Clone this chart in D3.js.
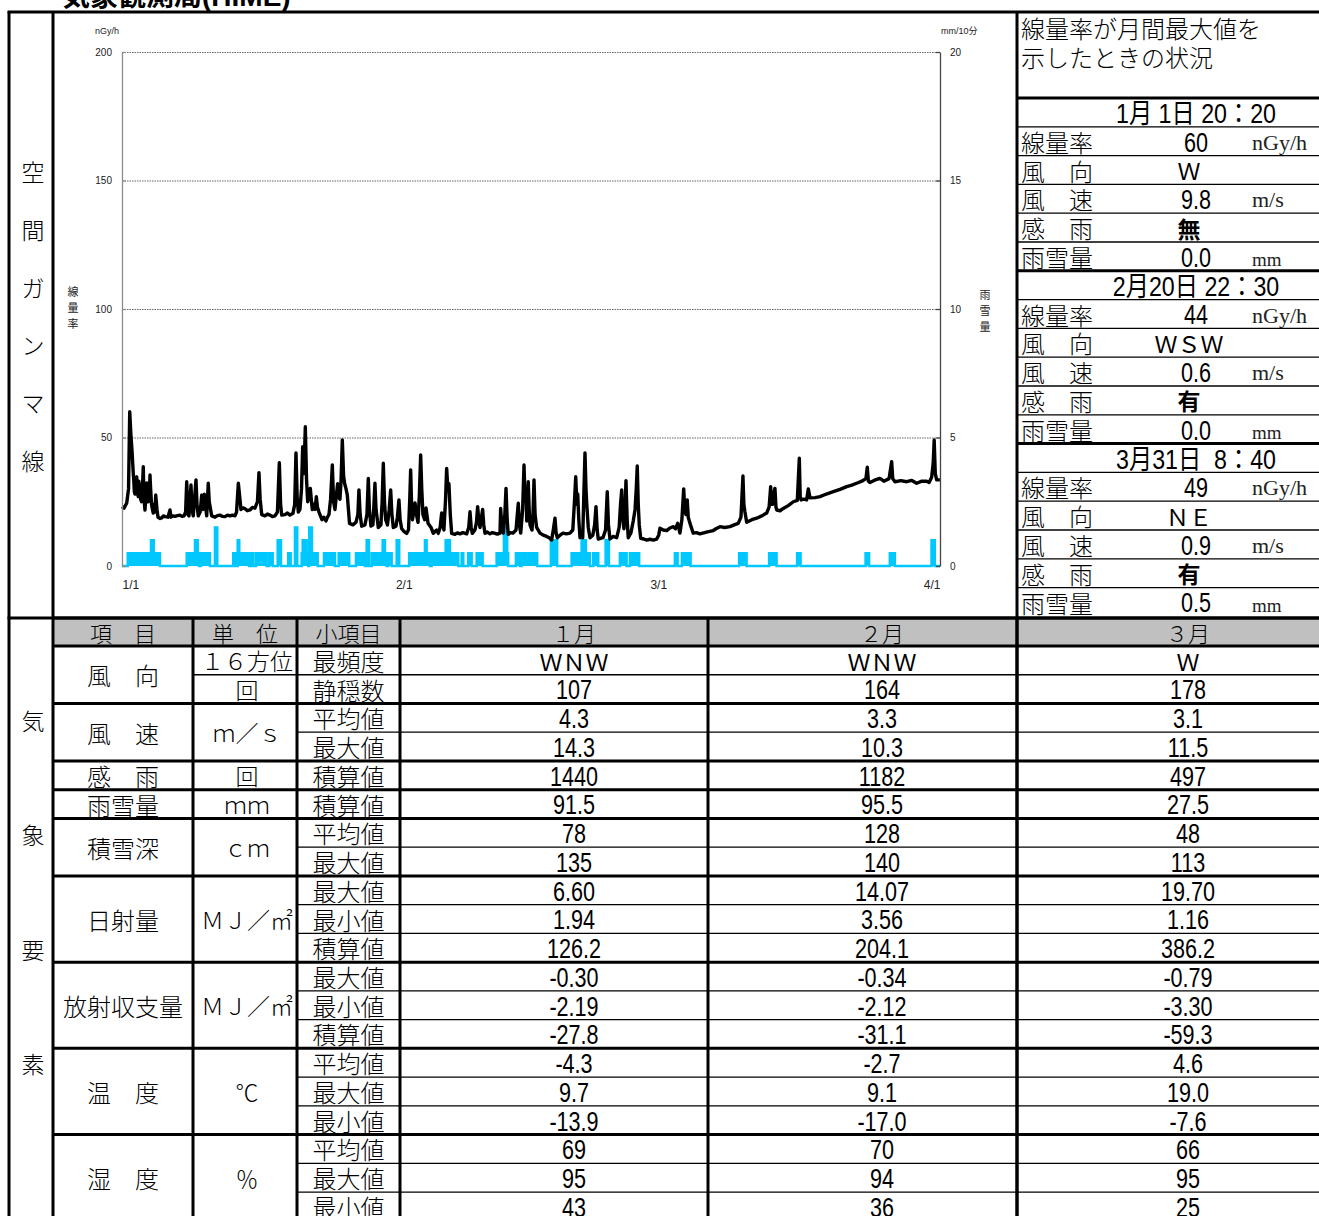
<!DOCTYPE html>
<html><head><meta charset="utf-8">
<script src="https://cdn.jsdelivr.net/npm/d3@7"></script>
<style>
body{margin:0;background:#fff;}
svg{display:block;}
text{white-space:pre;}
</style></head><body>
<svg id="sheet" width="1319" height="1216"></svg>
<script>
// Dose rate, 10-minute record: [days since 1 Jan 00:00, nGy/h]
const doseRate = [
 [0,23.1],[0.22,22.5],[0.52,24.5],[0.72,30],[0.85,60],[0.99,50.3],[1.10,45],[1.24,36],[1.30,33],[1.36,29],
 [1.43,28],[1.50,31],[1.62,34.7],[1.70,29],[1.79,27],[1.85,33],[1.98,30],[2.05,26],[2.15,25],[2.25,30],
 [2.34,38.6],[2.42,26],[2.53,21.8],[2.62,27],[2.72,32.3],[2.80,29],[2.89,25],[3.00,27],[3.08,35.4],[3.15,30],
 [3.25,24],[3.35,22],[3.44,20.6],[3.55,24],[3.62,21],[3.71,27.6],[3.85,22],[3.96,19],[4.20,18.5],[4.37,18.7],
 [4.55,19.5],[4.73,19.2],[5.05,19],[5.28,21.8],[5.39,19],[5.60,19.5],[5.83,19.3],[6.10,19.6],[6.38,19.8],[6.60,19.3],
 [6.82,19.5],[7.00,21],[7.12,32.8],[7.26,20],[7.37,19.5],[7.59,31.5],[7.70,22],[7.84,19.5],[8.14,33.5],[8.25,24],
 [8.39,19.5],[8.60,21],[8.77,27.6],[8.91,22],[9.05,27.9],[9.20,23],[9.32,19.5],[9.49,32.2],[9.60,25],[9.87,19.5],
 [10.23,19],[10.50,19.6],[10.78,19.8],[11.05,19.3],[11.33,19.2],[11.60,19.8],[11.88,19.5],[12.15,19.8],[12.43,19.5],[12.60,21],
 [12.80,32.2],[13.09,22],[13.30,22.6],[13.53,22.3],[13.80,21.5],[14.08,21.8],[14.35,22.8],[14.63,22.5],[14.90,25],[15.07,36.3],
 [15.20,26],[15.37,20],[15.73,19.5],[16.00,20.2],[16.28,19.8],[16.55,19.2],[16.83,19.5],[17.10,21],[17.31,40.2],[17.45,24],
 [17.57,19.8],[17.93,20],[18.20,20.6],[18.48,19.8],[18.81,20.5],[19.00,24],[19.14,44],[19.28,26],[19.40,21],[19.58,22],
 [19.75,30],[19.88,46.4],[20.02,36],[20.17,54.2],[20.30,34],[20.43,25],[20.58,28],[20.72,30.2],[20.85,25],[20.94,22],
 [21.12,24],[21.25,22],[21.38,27],[21.50,23],[21.67,21],[22.00,18],[22.20,19],[22.44,17.5],[22.60,19],[22.77,20],
 [22.95,26],[23.14,39.3],[23.28,25],[23.43,22],[23.60,28],[23.73,32],[23.85,27],[23.98,26],[24.10,33],[24.24,49],
 [24.38,35],[24.50,32],[24.65,30],[24.79,27.6],[25.03,16.6],[25.41,16],[25.74,17],[25.95,20],[26.07,29.6],[26.20,20],
 [26.37,15.5],[26.73,16],[26.95,20],[27.10,34.1],[27.22,22],[27.39,15.5],[27.61,16],[27.72,24],[27.83,32.2],[27.95,22],
 [28.20,15],[28.49,16],[28.62,25],[28.75,40],[28.88,25],[29.01,18],[29.21,16],[29.40,22],[29.56,29.6],[29.70,20],
 [29.85,15],[30.14,15.5],[30.30,19],[30.47,25.7],[30.60,18],[30.77,14.5],[31.02,13.5],[31.32,12.7],[31.52,14],[31.65,25],
 [31.76,37.4],[31.86,24],[31.96,18],[32.10,21],[32.24,24.5],[32.40,20],[32.57,17],[32.72,28],[32.86,43.2],[32.98,30],
 [33.11,20],[33.30,18],[33.45,22.6],[33.67,16.6],[34.00,15],[34.25,12.7],[34.45,13.5],[34.62,14],[34.80,12.7],[35.00,15],
 [35.17,20.6],[35.30,16],[35.42,14],[35.60,26],[35.72,38],[35.85,30],[35.97,32],[36.12,20],[36.27,12.7],[36.63,12.3],
 [36.90,12.9],[37.18,12.5],[37.51,13],[37.92,12.5],[38.15,15],[38.29,21.1],[38.42,15],[38.54,12.7],[38.83,14],[39.00,17],
 [39.13,23.1],[39.25,18],[39.39,15],[39.55,19],[39.68,22],[39.80,16],[39.94,12.7],[40.20,13.2],[40.49,12.5],[40.75,13],
 [41.04,12.7],[41.30,12.4],[41.59,12.8],[41.66,22.4],[41.80,15],[41.95,12.8],[42.12,20],[42.25,30.2],[42.38,18],[42.50,12.3],
 [42.75,13],[43.02,12.8],[43.35,14],[43.60,24.4],[43.72,16],[43.87,12.8],[44.08,22],[44.23,39.3],[44.36,25],[44.45,30],
 [44.53,17.5],[44.62,24],[44.70,32.8],[44.80,22],[44.89,16],[45.11,14],[45.22,20],[45.33,33.5],[45.45,20],[45.62,15],
 [45.99,12.8],[46.35,12],[46.72,11.5],[47.00,11],[47.27,10.1],[47.45,14],[47.64,18.6],[47.76,13],[47.89,11],[48.20,12],
 [48.52,12.8],[48.90,12.5],[49.29,12.8],[49.60,14],[49.78,25],[49.92,34.7],[50.05,24],[50.14,28],[50.26,18],[50.39,11],
 [50.55,12],[50.69,11],[50.80,26],[50.94,44],[51.05,30],[51.13,24.4],[51.30,15],[51.49,11],[51.80,12],[52.00,16],
 [52.15,23.1],[52.28,14],[52.40,10.5],[52.92,11],[53.20,14],[53.39,28.9],[53.52,16],[53.69,10.5],[54.05,11.5],[54.43,11],
 [54.70,15],[54.85,24],[54.98,29.6],[55.10,18],[55.23,14.5],[55.35,22],[55.45,33.2],[55.58,18],[55.70,11],[56.00,13],
 [56.25,17.5],[56.45,22],[56.58,30],[56.69,38.9],[56.80,24],[56.91,16],[57.07,10.8],[57.40,10.5],[57.73,10.1],[58.10,10.4],
 [58.46,10.1],[58.83,10.5],[59.05,12],[59.19,14.7],[59.55,14],[59.93,13.8],[60.30,14.8],[60.66,15.3],[60.90,14.5],[61.14,16.6],
 [61.39,12.8],[61.60,18],[61.80,30],[61.92,22],[62.05,20],[62.19,25.7],[62.30,19],[62.49,16.6],[62.85,12.8],[63.20,13],
 [63.59,12.5],[64.30,13.2],[65.05,13.8],[65.40,14.6],[65.79,15.3],[66.30,15],[66.89,15.3],[67.35,16],[67.80,16.6],[68.10,19],
 [68.32,35],[68.42,24],[68.54,21],[68.73,17],[69.30,18],[69.83,18.6],[70.40,19.5],[70.93,20.6],[71.20,23],[71.37,30.9],
 [71.48,24],[71.59,24],[71.72,28],[71.84,30.2],[71.95,23],[72.03,21.8],[72.40,21.5],[72.76,22.4],[73.30,23.5],[73.86,25],
 [74.30,25.5],[74.52,41.9],[74.62,27],[74.71,25.7],[75.00,26],[75.33,25.7],[75.51,30],[75.70,26.5],[76.25,26.6],[76.80,27],
 [77.50,28],[78.26,28.9],[79.00,29.8],[79.73,30.9],[80.30,31.5],[80.83,32.2],[81.40,33],[81.85,34],[82.00,38.4],[82.12,33],
 [82.29,32.5],[82.80,33.4],[83.39,34.1],[83.83,33],[84.40,34],[84.68,40.6],[84.80,34],[85.04,32.8],[85.70,33.2],[86.33,32.8],
 [86.90,33.3],[87.43,32.2],[88.00,33],[88.53,33],[88.80,32.5],[89.08,34.5],[89.25,40],[89.36,49],[89.48,36],[89.63,33.5],
 [89.99,33.5]
];

// Precipitation, 10-minute totals: [start day, end day, mm]
const rainfall = [
 [0.63,3.19,0.5],[3.19,3.49,1.0],[3.49,4.18,0.5],
 [7.12,8.03,0.5],[8.03,8.33,1.0],[8.33,8.47,0.5],[8.69,9.68,0.5],
 [10.23,10.48,1.5],
 [12.24,12.46,0.5],[12.73,12.90,1.0],[12.90,14.00,0.5],[14.27,14.44,0.5],[14.74,15.92,0.5],[16.20,16.58,0.5],
 [17.13,17.49,1.0],[18.29,18.56,0.5],[19.03,19.28,1.5],[19.77,19.88,0.5],[19.88,20.32,1.0],[20.32,20.49,0.5],
 [20.60,20.90,1.5],[20.90,21.53,0.5],[22.22,23.43,0.5],[23.84,25.00,0.5],[25.74,26.73,0.5],[26.92,27.17,1.0],
 [27.47,28.68,0.5],[28.68,28.93,1.0],[28.93,29.12,0.5],[29.29,29.67,0.5],[30.22,30.50,1.0],
 [31.60,33.33,0.5],[33.33,33.52,1.0],[33.52,33.88,0.5],[34.07,35.61,0.5],[35.61,36.08,1.0],[36.08,37.00,0.5],
 [37.37,37.55,0.5],[38.09,38.47,0.5],[39.02,39.68,0.5],[41.22,42.02,0.5],[42.02,42.38,1.5],[42.38,42.49,0.5],
 [43.34,43.78,0.5],[43.97,45.68,0.5],[47.19,47.88,1.0],[49.47,50.57,0.5],[50.57,51.04,1.0],[51.04,51.48,0.5],
 [51.85,52.40,0.5],[53.21,53.57,1.0],[54.78,55.52,0.5],[55.88,56.90,0.5],[60.83,61.13,0.5],[61.60,62.56,0.5],
 [67.90,68.72,0.5],[71.20,72.02,0.5],[74.28,74.66,0.5],[81.81,82.20,0.5],[84.48,85.03,0.5],[89.07,89.43,1.0]
];

const monthLabels = ["1/1", "2/1", "3/1", "4/1"];
const doseTicks = [0, 50, 100, 150, 200];
const rainTicks = [0, 5, 10, 15, 20];

// Conditions at the monthly peak dose rate
const peakTimes = ["1月 1日 20：20", "2月20日 22：30", "3月31日  8：40"];
const peakDose = ["60", "44", "49"];
const peakWindDir = ["Ｗ", "ＷＳＷ", "ＮＥ"];
const peakWindSpeed = ["9.8", "0.6", "0.9"];
const peakRainSense = ["無", "有", "有"];
const peakPrecip = ["0.0", "0.0", "0.5"];
const peakLabels = ["線量率", "風　向", "風　速", "感　雨", "雨雪量"];
const peakUnits = ["nGy/h", "", "m/s", "", "mm"];

// Monthly weather summary
const headerLabels = ["項　目", "単　位", "小項目"];
const months = ["１月", "２月", "３月"];
const itemNames = ["風　向", "風　速", "感　雨", "雨雪量", "積雪深", "日射量", "放射収支量", "温　度", "湿　度"];
const itemRows = [2, 2, 1, 1, 2, 3, 3, 3, 3];
const unitNames = [["１６方位", "回"], ["ｍ／ｓ"], ["回"], ["ｍｍ"], ["ｃｍ"], ["ＭＪ／㎡"], ["ＭＪ／㎡"], ["℃"], ["％"]];
const subItems = ["最頻度","静穏数","平均値","最大値","積算値","積算値","平均値","最大値","最大値","最小値","積算値","最大値","最小値","積算値","平均値","最大値","最小値","平均値","最大値","最小値"];
const janValues = ["ＷＮＷ","107","4.3","14.3","1440","91.5","78","135","6.60","1.94","126.2","-0.30","-2.19","-27.8","-4.3","9.7","-13.9","69","95","43"];
const febValues = ["ＷＮＷ","164","3.3","10.3","1182","95.5","128","140","14.07","3.56","204.1","-0.34","-2.12","-31.1","-2.7","9.1","-17.0","70","94","36"];
const marValues = ["Ｗ","178","3.1","11.5","497","27.5","48","113","19.70","1.16","386.2","-0.79","-3.30","-59.3","4.6","19.0","-7.6","66","95","25"];

// ---------- layout ----------
const W = 1319, H = 1216;
const JP = "'Noto Sans CJK JP', sans-serif";
const SANS = "'Liberation Sans', Arial, 'Noto Sans CJK JP', sans-serif";
const SERIF = "'Liberation Serif', 'Noto Sans CJK JP', serif";

const frameL = 9, colL = 53, panelX = 1017, frameT = 12, split = 618;
const svg = d3.select("#sheet");

// condensed figures: a sans face squeezed horizontally about its centre
function narrow(cx, cy, str, size, sx, weight) {
  return svg.append("text")
    .attr("transform", `translate(${cx},${cy}) scale(${sx},1)`)
    .attr("text-anchor", "middle").attr("dominant-baseline", "central")
    .attr("font-family", SANS).attr("font-size", size).attr("font-weight", weight || 400)
    .text(str);
}

// ---------- chart ----------
const t0 = Date.UTC(2023, 0, 1);
const dayToDate = d => new Date(t0 + d * 864e5);
const x = d3.scaleUtc().domain([dayToDate(0), dayToDate(90)]).range([122, 940]);
const yDose = d3.scaleLinear().domain([0, 200]).range([566, 52]);
const yRain = d3.scaleLinear().domain([0, 20]).range([566, 52]);

const chart = svg.append("g");

// dotted grid
chart.append("g").selectAll("line").data(doseTicks.filter(v => v > 0)).join("line")
  .attr("x1", x.range()[0]).attr("x2", x.range()[1])
  .attr("y1", d => yDose(d) + 0.5).attr("y2", d => yDose(d) + 0.5)
  .attr("stroke", "#666").attr("stroke-width", 1).attr("stroke-dasharray", "1.5,1");

// precipitation columns as a step area
const rainSteps = [[0, 0]];
rainfall.forEach(([s, e, v]) => { rainSteps.push([s, 0], [s, v], [e, v], [e, 0]); });
rainSteps.push([90, 0]);
chart.append("path").datum(rainSteps)
  .attr("fill", "#00c8ff")
  .attr("d", d3.area().x(d => x(dayToDate(d[0]))).y0(yRain(0)).y1(d => yRain(d[1])));
chart.append("path").datum(rainSteps)
  .attr("fill", "none").attr("stroke", "#00c8ff").attr("stroke-width", 2.5)
  .attr("d", d3.line().x(d => x(dayToDate(d[0]))).y(d => yRain(d[1])));

// dose rate line
chart.append("path").datum(doseRate)
  .attr("fill", "none").attr("stroke", "#000").attr("stroke-width", 3.4)
  .attr("stroke-linejoin", "round")
  .attr("d", d3.line().x(d => x(dayToDate(d[0]))).y(d => yDose(d[1])));

// axes
const axL = chart.append("g").attr("transform", `translate(${x.range()[0]},0)`)
  .call(d3.axisLeft(yDose).tickValues(doseTicks).tickSizeInner(-4).tickSizeOuter(0).tickPadding(10));
const axR = chart.append("g").attr("transform", `translate(${x.range()[1]},0)`)
  .call(d3.axisRight(yRain).tickValues(rainTicks).tickSizeInner(-4).tickSizeOuter(0).tickPadding(10));
axL.selectAll("path,line").attr("stroke", "#8c8c8c").attr("stroke-width", 1.3);
axR.selectAll("path,line").attr("stroke", "#444").attr("stroke-width", 1.3);
[axL, axR].forEach(a => a.selectAll("text").attr("font-family", SANS).attr("font-size", 10).attr("fill", "#222"));

const axB = chart.append("g").attr("transform", `translate(0,${yDose(0)})`)
  .call(d3.axisBottom(x).ticks(d3.utcMonth.every(1)).tickFormat((d, i) => monthLabels[i])
    .tickSize(0).tickPadding(14));
axB.select(".domain").remove();
const nB = monthLabels.length;
axB.selectAll("text").attr("font-family", SANS).attr("font-size", 12).attr("fill", "#222")
  .attr("text-anchor", (d, i) => i === 0 ? "start" : i === nB - 1 ? "end" : "middle");

// axis captions
chart.append("text").attr("x", 95).attr("y", 34).text("nGy/h")
  .attr("font-family", SANS).attr("font-size", 9).attr("fill", "#222");
chart.append("text").attr("x", 941).attr("y", 34).text("mm/10分")
  .attr("font-family", SANS).attr("font-size", 9).attr("fill", "#222");
function stacked(str, cx, cy0, step, size) {
  [...str].forEach((c, i) => chart.append("text").attr("x", cx).attr("y", cy0 + i * step)
    .attr("text-anchor", "middle").attr("dominant-baseline", "central")
    .attr("font-family", JP).attr("font-size", size).attr("fill", "#222").text(c));
}
stacked("線量率", 73, 291, 16, 11);
stacked("雨雪量", 985, 294, 16, 11);

// ---------- page title and section labels ----------
svg.append("text").attr("x", 62).attr("y", 6).text("気象観測局(HIME)")
  .attr("font-family", "'Liberation Sans', 'Noto Sans CJK JP', sans-serif").attr("font-weight", "bold")
  .attr("font-size", 28).attr("fill", "#000");

function sideLabel(str, y0, step) {
  [...str].forEach((c, i) => svg.append("text").attr("x", 33).attr("y", y0 + i * step)
    .attr("text-anchor", "middle").attr("dominant-baseline", "central")
    .attr("font-family", JP).attr("font-weight", 300).attr("font-size", 23).text(c));
}
sideLabel("空間ガンマ線", 171, 57.8);
sideLabel("気象要素", 720, 114.3);

// ---------- peak-condition panel ----------
const pTop = 98, pRow = 28.8, pL = panelX;
svg.append("text").attr("x", 1021).attr("y", 27).attr("dominant-baseline", "central")
  .attr("font-family", JP).attr("font-weight", 300).attr("font-size", 24).text("線量率が月間最大値を");
svg.append("text").attr("x", 1021).attr("y", 56).attr("dominant-baseline", "central")
  .attr("font-family", JP).attr("font-weight", 300).attr("font-size", 24).text("示したときの状況");

peakTimes.forEach((t, k) => {
  const base = pTop + k * 6 * pRow;
  const cy = i => base + (i + 0.5) * pRow;
  narrow(1196, cy(0) + 1, t, 27, 0.86);
  const vals = [peakDose[k], peakWindDir[k], peakWindSpeed[k], peakRainSense[k], peakPrecip[k]];
  peakLabels.forEach((lab, i) => {
    const y = cy(i + 1);
    svg.append("text").attr("x", 1021).attr("y", y).attr("dominant-baseline", "central")
      .attr("font-family", JP).attr("font-weight", 300).attr("font-size", 24).text(lab);
    if (i === 1 || i === 3) {
      svg.append("text").attr("x", 1189).attr("y", y).attr("text-anchor", "middle")
        .attr("dominant-baseline", "central").attr("font-family", JP)
        .attr("font-weight", i === 3 ? 700 : 400).attr("font-size", 23).text(vals[i]);
    } else {
      narrow(1196, y + 1, vals[i], 27, 0.8);
    }
    if (peakUnits[i]) {
      svg.append("text").attr("x", 1252).attr("y", y + (i === 4 ? 3 : 1)).attr("dominant-baseline", "central")
        .attr("font-family", SERIF).attr("font-size", i === 4 ? 19 : 22).attr("fill", "#222").text(peakUnits[i]);
    }
  });
});

// ---------- summary table ----------
const cols = [colL, 193, 297, 400, 708, 1017, W];
const valueCx = [574, 882, 1188];
const hTop = split, hBot = 646, tRow = 28.74;
const rowY = i => hBot + i * tRow;

svg.append("rect").attr("x", colL).attr("y", hTop).attr("width", W - colL).attr("height", hBot - hTop)
  .attr("fill", "#c0c0c0");

const headCx = [(cols[0] + cols[1]) / 2, (cols[1] + cols[2]) / 2, (cols[2] + cols[3]) / 2];
headerLabels.forEach((h, i) => svg.append("text").attr("x", headCx[i]).attr("y", (hTop + hBot) / 2)
  .attr("text-anchor", "middle").attr("dominant-baseline", "central")
  .attr("font-family", JP).attr("font-weight", 300).attr("font-size", 22).text(h));
months.forEach((m, i) => svg.append("text").attr("x", valueCx[i]).attr("y", (hTop + hBot) / 2)
  .attr("text-anchor", "middle").attr("dominant-baseline", "central")
  .attr("font-family", JP).attr("font-weight", 300).attr("font-size", 22).text(m));

const lines = svg.append("g").attr("stroke", "#000");
const thick = 3, thin = 1.3;
function hline(x1, x2, y, w) { lines.append("line").attr("x1", x1).attr("x2", x2).attr("y1", y).attr("y2", y).attr("stroke-width", w); }
function vline(xv, y1, y2, w) { lines.append("line").attr("x1", xv).attr("x2", xv).attr("y1", y1).attr("y2", y2).attr("stroke-width", w); }

let r = 0;
itemNames.forEach((name, g) => {
  const n = itemRows[g];
  const top = rowY(r), bot = rowY(r + n);
  svg.append("text").attr("x", (cols[0] + cols[1]) / 2).attr("y", (top + bot) / 2)
    .attr("text-anchor", "middle").attr("dominant-baseline", "central")
    .attr("font-family", JP).attr("font-weight", 300).attr("font-size", 24).text(name);
  const units = unitNames[g];
  const span = n / units.length;
  units.forEach((u, j) => {
    const uy = (rowY(r + j * span) + rowY(r + (j + 1) * span)) / 2;
    svg.append("text").attr("x", (cols[1] + cols[2]) / 2 + 2).attr("y", uy)
      .attr("text-anchor", "middle").attr("dominant-baseline", "central")
      .attr("font-family", JP).attr("font-weight", 300).attr("font-size", 23).text(u);
    if (j > 0) hline(cols[1], cols[2], rowY(r + j * span), thin);
  });
  for (let k = 0; k < n; k++) {
    const i = r + k, cy = (rowY(i) + rowY(i + 1)) / 2;
    svg.append("text").attr("x", (cols[2] + cols[3]) / 2).attr("y", cy)
      .attr("text-anchor", "middle").attr("dominant-baseline", "central")
      .attr("font-family", JP).attr("font-weight", 300).attr("font-size", 24).text(subItems[i]);
    [janValues, febValues, marValues].forEach((vals, m) => {
      if (/[Ａ-Ｚ]/.test(vals[i])) {
        svg.append("text").attr("x", valueCx[m]).attr("y", cy + 1)
          .attr("text-anchor", "middle").attr("dominant-baseline", "central")
          .attr("font-family", JP).attr("font-size", 23).text(vals[i]);
      } else {
        narrow(valueCx[m], cy + 1, vals[i], 27, 0.8);
      }
    });
    if (k > 0) hline(cols[2], W, rowY(i), thin);
  }
  r += n;
  hline(colL, W, rowY(r), thick);
});

// table frame
hline(colL, W, hTop, thick);
hline(colL, W, hBot, thick);
cols.slice(1, 6).forEach(c => vline(c, hTop, H, thick));

// panel rows
for (let i = 1; i < 18; i++) {
  hline(pL, W, pTop + i * pRow, i % 6 === 0 ? thick : thin);
}
hline(pL, W, pTop, thick);

// outer frame
hline(frameL - 1.5, W, frameT, thick);
hline(frameL - 1.5, W, split, thick);
vline(frameL, frameT, H, thick);
vline(colL, frameT, H, thick);
vline(panelX, frameT, H, thick);
</script></body></html>
